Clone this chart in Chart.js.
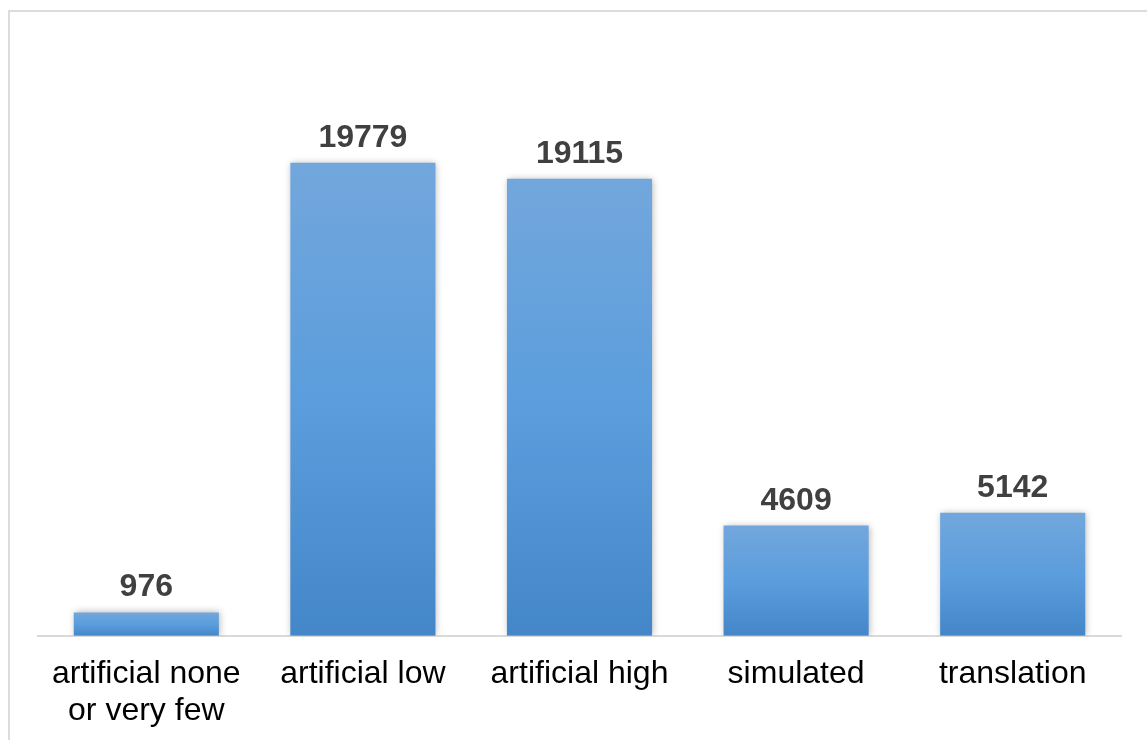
<!DOCTYPE html>
<html>
<head>
<meta charset="utf-8">
<script src="https://cdn.jsdelivr.net/npm/chart.js@4.4.1/dist/chart.umd.min.js"></script>
<style>
    html, body { margin: 0; padding: 0; background: #fff; overflow: hidden; width: 1147px; height: 740px; }
    #marco {
        position: absolute; left: 8px; top: 10px; width: 1160px; height: 760px;
        border: 2px solid #dcdcdc; box-sizing: border-box;
    }
    #wrap { position: absolute; left: 0; top: 0; width: 1147px; height: 750px; }
</style>
</head>
<body>
<div id="marco"></div>
<div id="wrap"><canvas id="barChart"></canvas></div>
<script>
// datos del gráfico
const categorias = [["artificial none", "or very few"], "artificial low", "artificial high", "simulated", "translation"];
const valores = [976, 19779, 19115, 4609, 5142];

// gradiente por barra: claro arriba, oscuro abajo
function gradienteBarra(context) {
    const chart = context.chart;
    const yScale = chart.scales.y;
    if (!chart.chartArea || !yScale || context.dataIndex === undefined) return "#5b9bd5";
    const top = yScale.getPixelForValue(valores[context.dataIndex]);
    const base = yScale.getPixelForValue(0);
    if (!isFinite(top) || !isFinite(base) || top === base) return "#5b9bd5";
    const g = chart.ctx.createLinearGradient(0, top, 0, base);
    g.addColorStop(0, "#72a7dc");
    g.addColorStop(0.5, "#5b9ddd");
    g.addColorStop(1, "#4487c8");
    return g;
}

// sombra suave alrededor de las barras
const sombraBarras = {
    id: "sombraBarras",
    beforeDatasetDraw(chart) {
        const ctx = chart.ctx;
        ctx.save();
        ctx.shadowColor = "rgba(0,0,0,0.30)";
        ctx.shadowBlur = 7;
        ctx.shadowOffsetX = 1;
        ctx.shadowOffsetY = 0;
    },
    afterDatasetDraw(chart) {
        chart.ctx.restore();
    }
};

// etiquetas de valores arriba de cada barra
const etiquetasValores = {
    id: "etiquetasValores",
    afterDatasetsDraw(chart) {
        const ctx = chart.ctx;
        const meta = chart.getDatasetMeta(0);
        ctx.save();
        ctx.font = "bold 32px 'Liberation Sans', Arial, sans-serif";
        ctx.fillStyle = "#404040";
        ctx.textAlign = "center";
        ctx.textBaseline = "alphabetic";
        meta.data.forEach((bar, i) => {
            ctx.fillText(String(valores[i]), bar.x, bar.y - 16);
        });
        ctx.restore();
    }
};

const ctx = document.getElementById("barChart").getContext("2d");
new Chart(ctx, {
    type: "bar",
    data: {
        labels: categorias,
        datasets: [{
            data: valores,
            backgroundColor: gradienteBarra,
            borderWidth: 0,
            categoryPercentage: 1,
            barPercentage: 0.67
        }]
    },
    options: {
        responsive: true,
        maintainAspectRatio: false,
        animation: false,
        layout: { padding: { left: 38, right: 26, top: 38, bottom: 0 } },
        plugins: {
            legend: { display: false },
            tooltip: { enabled: false }
        },
        scales: {
            y: {
                display: false,
                min: 0,
                max: 25000
            },
            x: {
                grid: { display: false, drawTicks: false },
                border: { display: true, color: "#d9d9d9", width: 2 },
                ticks: {
                    color: "#000",
                    padding: 20,
                    maxRotation: 0,
                    autoSkip: false,
                    font: { family: "'Liberation Sans', Arial, sans-serif", size: 32, lineHeight: 1.16 }
                }
            }
        }
    },
    plugins: [sombraBarras, etiquetasValores]
});
</script>
</body>
</html>
